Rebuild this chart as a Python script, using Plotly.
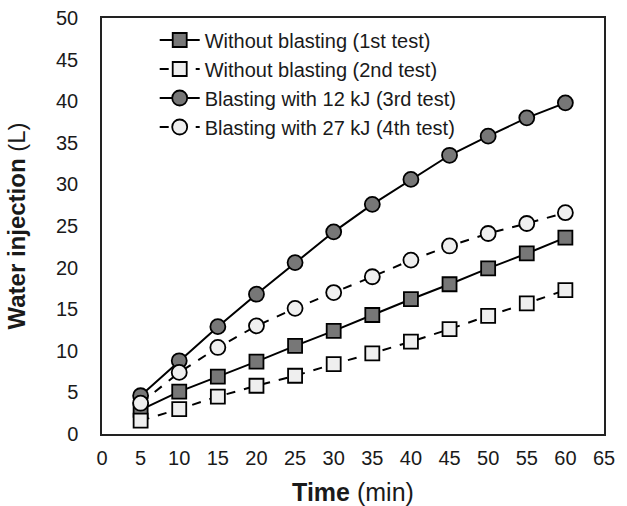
import plotly.graph_objects as go

time_min = [5, 10, 15, 20, 25, 30, 35, 40, 45, 50, 55, 60]
test1 = [2.9, 5.1, 6.9, 8.7, 10.6, 12.4, 14.3, 16.2, 18.0, 19.9, 21.7, 23.6]
test2 = [1.6, 3.0, 4.5, 5.8, 7.0, 8.4, 9.7, 11.1, 12.6, 14.2, 15.7, 17.3]
test3 = [4.6, 8.8, 12.9, 16.8, 20.6, 24.3, 27.6, 30.6, 33.5, 35.8, 38.0, 39.8]
test4 = [3.7, 7.4, 10.4, 13.0, 15.1, 17.0, 18.9, 20.9, 22.6, 24.1, 25.3, 26.6]
names = ["Without blasting (1st test)", "Without blasting (2nd test)",
         "Blasting with 12 kJ (3rd test)", "Blasting with 27 kJ (4th test)"]

x_ticks = list(range(0, 70, 5))
y_ticks = list(range(0, 55, 5))

styles = [
    dict(data=test1, symbol="square", fill="#777777", dash="solid"),
    dict(data=test2, symbol="square", fill="#efefef", dash="dash"),
    dict(data=test3, symbol="circle", fill="#777777", dash="solid"),
    dict(data=test4, symbol="circle", fill="#efefef", dash="dash"),
]

fig = go.Figure()
for name, st in zip(names, styles):
    fig.add_trace(go.Scatter(
        x=time_min, y=st["data"], name=name, mode="lines+markers",
        line=dict(color="black", width=2, dash=st["dash"]),
        marker=dict(symbol=st["symbol"], size=14 if st["symbol"] == "square" else 15,
                    color=st["fill"], line=dict(color="black", width=1.8)),
    ))

font_family = "Liberation Sans, Arial, sans-serif"
fig.update_layout(
    width=627, height=506,
    margin=dict(l=102, r=23, t=18, b=72),
    paper_bgcolor="white", plot_bgcolor="white",
    font=dict(family=font_family, size=20, color="#1a1a1a"),
    showlegend=True,
    legend=dict(x=0.105, y=0.994, xanchor="left", yanchor="top",
                bgcolor="rgba(0,0,0,0)", font=dict(size=20),
                tracegroupgap=0, itemwidth=40),
    xaxis=dict(range=[0, 65], tickvals=x_ticks, ticks="", showgrid=False,
               zeroline=False, showline=True, linecolor="#222", linewidth=1.5,
               mirror=True, ticklabelstandoff=5, automargin=False,
               title=dict(text="<b>Time</b> (min)", font=dict(size=25), standoff=18)),
    yaxis=dict(range=[0, 50], tickvals=y_ticks, ticks="", showgrid=False,
               zeroline=False, showline=True, linecolor="#222", linewidth=1.5,
               mirror=True, ticklabelstandoff=18, automargin=False,
               title=dict(text="<b>Water injection</b> (L)", font=dict(size=24), standoff=24)),
)

fig.write_html("out.html")
